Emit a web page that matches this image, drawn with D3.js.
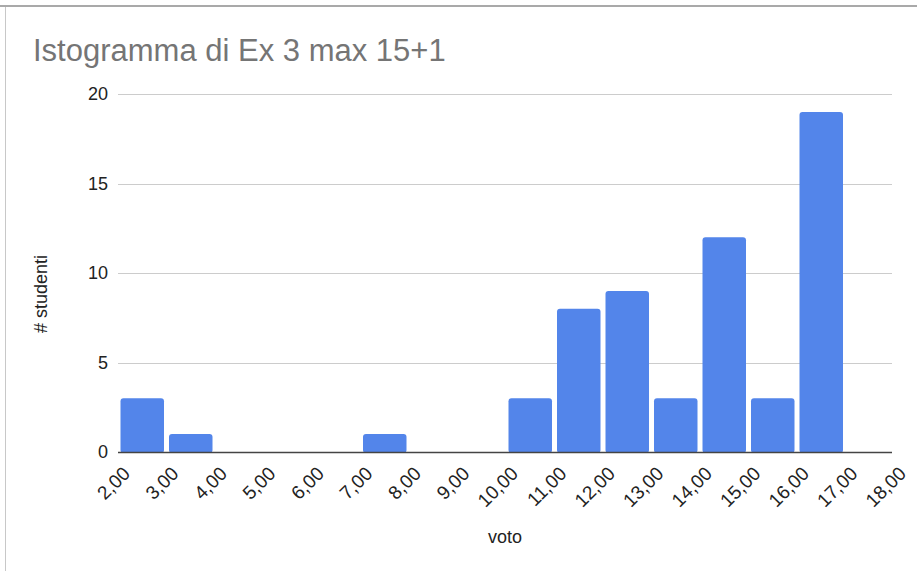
<!DOCTYPE html>
<html>
<head>
<meta charset="utf-8">
<script src="https://cdn.jsdelivr.net/npm/d3@7"></script>
<style>
  html, body { margin: 0; padding: 0; background: #fff; }
  svg { display: block; font-family: "Liberation Sans", Arial, sans-serif; }
</style>
</head>
<body>
<svg id="chart" width="917" height="571"></svg>
<script>
// Histogram bins: lower edge of each 1-point bin and number of students in it
const binStarts = [2, 3, 4, 5, 6, 7, 8, 9, 10, 11, 12, 13, 14, 15, 16, 17];
const binWidth = 1;
const counts    = [3, 1, 0, 0, 0, 1, 0, 0, 3, 8, 9, 3, 12, 3, 19, 0];

const xTicks = [2, 3, 4, 5, 6, 7, 8, 9, 10, 11, 12, 13, 14, 15, 16, 17, 18];
const yTicks = [0, 5, 10, 15, 20];

const title = "Istogramma di Ex 3 max 15+1";
const xTitle = "voto";
const yTitle = "# studenti";

const svg = d3.select("#chart");

// Italian number format: comma as decimal separator
const it = d3.formatLocale({ decimal: ",", thousands: ".", grouping: [3], currency: ["", " €"] });
const fmt = it.format(".2f");

const x = d3.scaleLinear().domain([2, 18]).range([120, 896]);
const y = d3.scaleLinear().domain([0, 20]).range([452, 94]);

const gridLeft = 118, gridRight = x(18) - 4;

// Frame lines
svg.append("line").attr("x1", 0).attr("x2", 917).attr("y1", 6).attr("y2", 6)
  .attr("stroke", "#a9a9a9").attr("stroke-width", 2);
svg.append("line").attr("x1", 5.5).attr("x2", 5.5).attr("y1", 7).attr("y2", 571)
  .attr("stroke", "#c8c8c8").attr("stroke-width", 1);

// Title
svg.append("text").attr("x", 33).attr("y", 61)
  .attr("font-size", 31).attr("fill", "#757575").text(title);

// Horizontal gridlines
svg.append("g").selectAll("line").data(yTicks.filter(d => d !== 0)).join("line")
  .attr("x1", gridLeft).attr("x2", gridRight)
  .attr("y1", d => Math.round(y(d)) + 0.5).attr("y2", d => Math.round(y(d)) + 0.5)
  .attr("stroke", "#cccccc").attr("stroke-width", 1);

// Y axis tick labels
const yAxis = d3.axisLeft(y).tickValues(yTicks).tickSize(0).tickPadding(0).tickFormat(d3.format("d"));
const yg = svg.append("g").attr("transform", "translate(108,0)").call(yAxis);
yg.select(".domain").remove();
yg.selectAll("text").attr("font-size", 18).attr("fill", "#222").attr("font-family", null);

// Bars
svg.append("g").selectAll("rect").data(binStarts.map((s, i) => ({ s, c: counts[i] })).filter(d => d.c > 0))
  .join("rect")
  .attr("x", d => x(d.s) + 0.5)
  .attr("width", d => x(d.s + binWidth) - x(d.s) - 5)
  .attr("y", d => y(d.c))
  .attr("height", d => y(0) - y(d.c) + 1)
  .attr("rx", 3)
  .attr("fill", "#5385ea");

// Baseline
svg.append("line").attr("x1", gridLeft).attr("x2", gridRight)
  .attr("y1", y(0) + 0.5).attr("y2", y(0) + 0.5)
  .attr("stroke", "#444").attr("stroke-width", 1.5);

// X axis tick labels, rotated
const xAxis = d3.axisBottom(x).tickValues(xTicks).tickSize(0).tickPadding(0).tickFormat(fmt);
const xg = svg.append("g").attr("transform", `translate(0,${y(0)})`).call(xAxis);
xg.select(".domain").remove();
xg.selectAll("text")
  .attr("font-size", 19).attr("fill", "#222").attr("font-family", null)
  .attr("text-anchor", "end")
  .attr("dy", "0.35em").attr("y", 0)
  .attr("transform", "translate(6,18) rotate(-45)");

// Axis titles
svg.append("text").attr("x", 505).attr("y", 543).attr("text-anchor", "middle")
  .attr("font-size", 18).attr("fill", "#222").text(xTitle);
svg.append("text").attr("transform", "translate(47,294) rotate(-90)")
  .attr("text-anchor", "middle").attr("font-size", 18).attr("fill", "#222").text(yTitle);
</script>
</body>
</html>
